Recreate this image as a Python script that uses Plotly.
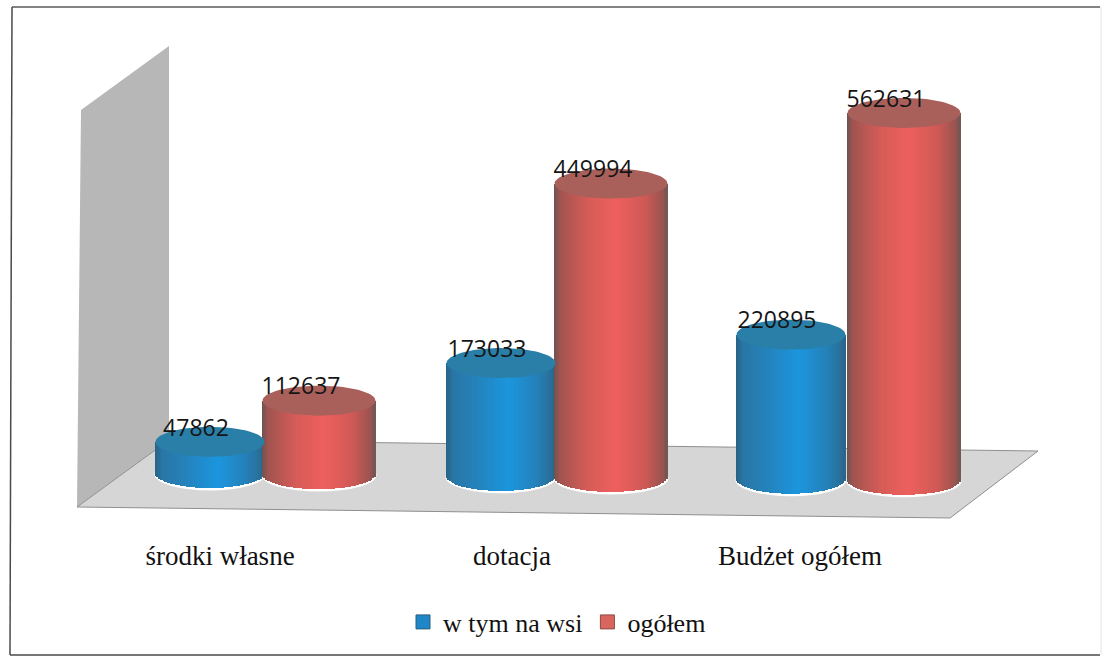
import numpy as np
import plotly.graph_objects as go

# ---------- data ----------
categories = ["środki własne", "dotacja", "Budżet ogółem"]
w_tym_na_wsi = [47862, 173033, 220895]
ogolem = [112637, 449994, 562631]
series_names = ["w tym na wsi", "ogółem"]

# ---------- layout constants ----------
W, H = 1104, 660
AXIS_PX = 530              # pixel row of the bottom of the plot area
PX_PER_UNIT = 0.652 / 1000 # vertical scale
ZERO_PX = 473              # pixel row of value 0 at the leftmost cylinder
SKEW = 0.0098              # floor slope: base drops going right
tick_x = [220, 512, 800]
blue_x = [210, 501, 791]
red_x = [319, 611, 904]
blue_a, red_a = 54.5, 56.5
ell_b = 15
N = 70

px2val = lambda p: (ZERO_PX - p) / PX_PER_UNIT
dpx = lambda p: p / PX_PER_UNIT
offs = lambda cx: -dpx((cx - blue_x[0]) * SKEW)


def ramp(stops, u):
    us = [s[0] for s in stops]
    cs = np.array([s[1] for s in stops], float)
    return "rgb(%d,%d,%d)" % tuple(np.interp(u, us, cs[:, i]) for i in range(3))


blue_ramp = [(-1, (40, 96, 130)), (-0.88, (42, 118, 165)), (-0.4, (36, 132, 190)),
             (0.15, (28, 150, 222)), (0.65, (36, 130, 186)), (0.92, (42, 112, 155)), (1, (44, 100, 135))]
red_ramp = [(-1, (100, 84, 82)), (-0.9, (160, 84, 80)), (-0.4, (214, 92, 88)),
            (0.1, (238, 96, 94)), (0.6, (208, 90, 86)), (0.92, (155, 84, 80)), (1, (110, 88, 84))]


def strips(values, centres, a, stops):
    xs, ys, bases, cols = [], [], [], []
    us = (np.arange(N) + 0.5) / N * 2 - 1
    for v, cx in zip(values, centres):
        for u in us:
            drop = dpx(ell_b * np.sqrt(1 - u * u))
            xs.append(cx + u * a)
            bases.append(offs(cx) - drop)
            ys.append(v + drop)
            cols.append(ramp(stops, u))
    return xs, ys, bases, cols, 2 * a / N * 1.15


fig = go.Figure()

# cylinder bodies
for vals, cen, a, stops in [(w_tym_na_wsi, blue_x, blue_a, blue_ramp), (ogolem, red_x, red_a, red_ramp)]:
    xs, ys, bases, cols, wd = strips(vals, cen, a, stops)
    fig.add_trace(go.Bar(x=xs, y=ys, base=bases, width=wd, marker=dict(color=cols, line=dict(width=0)),
                         showlegend=False, hoverinfo="skip"))

# top ellipses
t = np.linspace(0, 2 * np.pi, 73)
for vals, cen, a, col in [(w_tym_na_wsi, blue_x, blue_a, "#2a7fa8"), (ogolem, red_x, red_a, "#a9605a")]:
    ex, ey = [], []
    for v, cx in zip(vals, cen):
        ex += list(cx + a * np.cos(t)) + [None]
        ey += list(v + offs(cx) + dpx(ell_b * np.sin(t))) + [None]
    fig.add_trace(go.Scatter(x=ex, y=ey, mode="lines", fill="toself", fillcolor=col, line=dict(width=0),
                             showlegend=False, hoverinfo="skip"))

# value labels
lx, ly, lt = [], [], []
for vals, cen, dx in [(w_tym_na_wsi, blue_x, -14), (ogolem, red_x, -18)]:
    for v, cx in zip(vals, cen):
        lx.append(cx + dx)
        ly.append(v + offs(cx) + dpx(12))
        lt.append(str(v))
fig.add_trace(go.Scatter(x=lx, y=ly, text=lt, mode="text", textposition="middle center",
                         textfont=dict(family="Open Sans", size=23, color="#151515"),
                         showlegend=False, hoverinfo="skip"))

# legend entries
for name, col, ln in [(series_names[0], "#1f86c8", "#2a5f80"), (series_names[1], "#d8665e", "#8a4a46")]:
    fig.add_trace(go.Scatter(x=[None], y=[None], mode="markers", name=name,
                             marker=dict(symbol="square", size=14, color=col, line=dict(color=ln, width=1))))

# white halo below each cylinder
halo = []
for vals, cen, a in [(w_tym_na_wsi, blue_x, blue_a), (ogolem, red_x, red_a)]:
    for cx in cen:
        base = ZERO_PX + (cx - blue_x[0]) * SKEW
        halo.append(dict(type="circle", xref="x", yref="y", layer="below",
                         x0=cx - a - 1, x1=cx + a + 1,
                         y0=px2val(base + ell_b + 2.5), y1=px2val(base - ell_b),
                         fillcolor="white", line=dict(width=0)))


def ppoly(pts, fill, line=None, lw=0):
    path = "M" + " L".join(f"{x:.1f},{px2val(y):.1f}" for x, y in pts) + " Z"
    return dict(type="path", xref="x", yref="y", path=path, layer="below",
                fillcolor=fill, line=dict(color=line or fill, width=lw))


shapes = [
    ppoly([(81, 110), (169, 46), (169, 440), (77, 507)], "#b7b7b7"),
    ppoly([(169, 440), (1038, 451), (950, 518), (77, 507)], "#d6d6d6", "#8f8f8f", 1),
] + halo


# frame, drawn in paper coordinates that extend below the plot area
def fy(y):
    return 1 - y / AXIS_PX


shapes += [
    dict(type="line", xref="paper", yref="paper", x0=12/W, x1=10/W, y0=fy(7), y1=fy(655), line=dict(color="#4a4a4a", width=1.5)),
    dict(type="line", xref="paper", yref="paper", x0=12/W, x1=1100/W, y0=fy(7), y1=fy(7), line=dict(color="#5a5a5a", width=1.5)),
    dict(type="line", xref="paper", yref="paper", x0=10/W, x1=1100/W, y0=fy(655), y1=fy(655), line=dict(color="#4a4a4a", width=1.5)),
    dict(type="line", xref="paper", yref="paper", x0=1101/W, x1=1101/W, y0=fy(7), y1=fy(655), line=dict(color="#e4e4e4", width=1)),
]

fig.update_layout(
    width=W, height=H, margin=dict(l=0, r=0, t=0, b=H - AXIS_PX, autoexpand=False),
    paper_bgcolor="white", plot_bgcolor="rgba(0,0,0,0)", barmode="overlay", bargap=0,
    showlegend=True, shapes=shapes,
    legend=dict(orientation="h", x=557 / W, xanchor="center", y=fy(622), yanchor="middle",
                font=dict(family="Liberation Serif", size=26, color="#111111"), bgcolor="rgba(0,0,0,0)"),
    xaxis=dict(range=[0, W], tickmode="array", tickvals=tick_x, ticktext=categories, showgrid=False,
               zeroline=False, showline=False, ticks="outside", ticklen=2, tickcolor="rgba(0,0,0,0)",
               tickfont=dict(family="Liberation Serif", size=27, color="#111111"), fixedrange=True),
    yaxis=dict(range=[px2val(AXIS_PX), px2val(0)], visible=False, fixedrange=True),
)

fig.write_html("out.html", config={"displayModeBar": False}, post_script="document.body.style.margin='0';")
